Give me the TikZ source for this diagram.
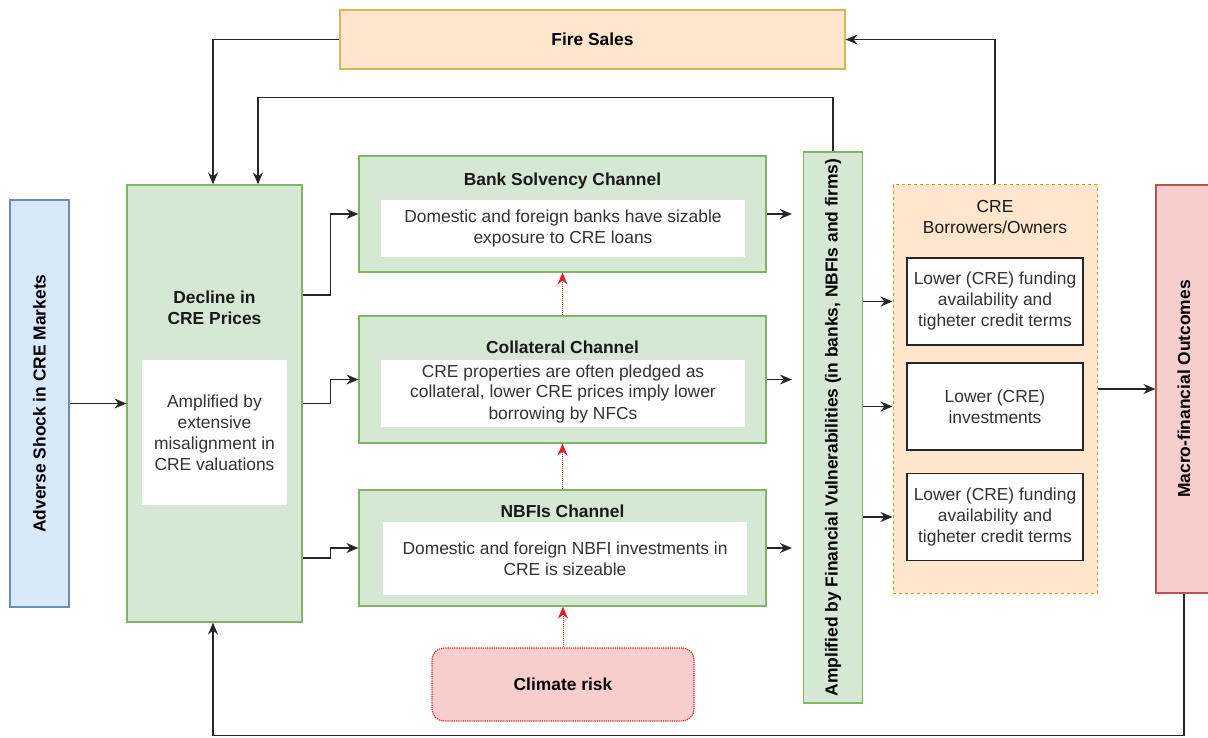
\documentclass[tikz,border=0pt]{standalone}
\usepackage{fontspec}
\setmainfont{Liberation Sans}
\usepackage{graphicx}
\usetikzlibrary{arrows.meta}

\definecolor{bluefill}{HTML}{DAE8FC}
\definecolor{blueline}{HTML}{6C8EBF}
\definecolor{greenfill}{HTML}{D5E8D4}
\definecolor{greenline}{HTML}{82B366}
\definecolor{peachfill}{HTML}{FFE6CC}
\definecolor{peachline}{HTML}{D79B00}
\definecolor{goldline}{HTML}{D6B656}
\definecolor{redfill}{HTML}{F8CECC}
\definecolor{redline}{HTML}{B85450}
\definecolor{darkred}{HTML}{E0202A}

\newcommand{\basefont}{\fontsize{17.4}{21}\selectfont}

\tikzstyle{bluebox} = [draw=blueline, fill=bluefill, line width=1.2pt]
\tikzstyle{greenbox} = [draw=greenline, fill=greenfill, line width=1.2pt]
\tikzstyle{peachbox} = [draw=peachline, fill=peachfill, line width=1pt, dashed]
\tikzstyle{redbox} = [draw=redline, fill=redfill, line width=1.2pt]
\tikzstyle{whitebox} = [fill=white, align=center, text=black!80, inner sep=0pt]
\tikzstyle{framebox} = [draw=black!85, fill=white, line width=1.3pt, align=center, text=black!80, inner sep=0pt]
\tikzstyle{heading} = [font=\basefont\bfseries, align=center, text=black!90]
\tikzstyle{link} = [draw=black!85, line width=1.5pt, -{Stealth[length=12pt, width=10pt, inset=4pt]}]
\tikzstyle{redlink} = [draw=darkred, line width=1pt, densely dotted, -{Stealth[length=12pt, width=10pt, inset=4pt, fill=darkred]}]

\begin{document}
\begin{tikzpicture}[x=1pt, y=-1pt, font=\basefont]
	\useasboundingbox (0,0) rectangle (1208,738);

	\node[bluebox, minimum width=59pt, minimum height=407pt] (shock) at (39.5,403.5) {\rotatebox{90}{\bfseries Adverse Shock in CRE Markets}};

	\node[greenbox, minimum width=175pt, minimum height=437pt] (decline) at (214.5,403.5) {};
	\node[heading] (declinetitle) at (214.5,308) {Decline in\\CRE Prices};
	\node[whitebox, minimum width=145pt, minimum height=145pt] (misalign) at (214.5,432.5) {Amplified by\\extensive\\misalignment in\\CRE valuations};

	\node[greenbox, minimum width=407pt, minimum height=116pt] (bank) at (562.5,214) {};
	\node[heading] (banktitle) at (562.5,181) {Bank Solvency Channel};
	\node[whitebox, minimum width=364pt, minimum height=57pt] (banktext) at (563,228.5) {Domestic and foreign banks have sizable\\exposure to CRE loans};

	\node[greenbox, minimum width=407pt, minimum height=127pt] (coll) at (562.5,379.5) {};
	\node[heading] (colltitle) at (562.5,347) {Collateral Channel};
	\node[whitebox, minimum width=364pt, minimum height=67pt] (colltext) at (563,393.5) {CRE properties are often pledged as\\collateral, lower CRE prices imply lower\\borrowing by NFCs};

	\node[greenbox, minimum width=407pt, minimum height=116pt] (nbfi) at (562.5,548) {};
	\node[heading] (nbfititle) at (562.5,511) {NBFIs Channel};
	\node[whitebox, minimum width=364pt, minimum height=73pt] (nbfitext) at (565,558.5) {Domestic and foreign NBFI investments in\\CRE is sizeable};

	\node[redbox, draw=darkred, densely dotted, rounded corners=12pt, minimum width=262pt, minimum height=73pt, font=\basefont\bfseries] (climate) at (563,684.5) {Climate risk};

	\node[greenbox, minimum width=59pt, minimum height=551pt] (amp) at (833,427.5) {\rotatebox{90}{\bfseries Amplified by Financial Vulnerabilities (in banks, NBFIs and firms)}};

	\node[peachbox, minimum width=204pt, minimum height=408pt] (creb) at (995,389) {};
	\node[align=center, text=black!90] (crebtitle) at (995,217) {CRE\\Borrowers/Owners};
	\node[framebox, minimum width=176pt, minimum height=87pt] (box1) at (995,301.5) {Lower (CRE) funding\\availability and\\tigheter credit terms};
	\node[framebox, minimum width=176pt, minimum height=87pt] (box2) at (995,406.5) {Lower (CRE)\\investments};
	\node[framebox, minimum width=176pt, minimum height=87pt] (box3) at (995,517) {Lower (CRE) funding\\availability and\\tigheter credit terms};

	\node[redbox, minimum width=56pt, minimum height=408pt] (macro) at (1184,389) {\rotatebox{90}{\bfseries Macro-financial Outcomes}};

	\node[draw=goldline, fill=peachfill, line width=1.2pt, minimum width=505pt, minimum height=59pt, font=\basefont\bfseries] (fires) at (592.5,39.5) {Fire Sales};

	\draw[link] (shock) -- (decline);
	\draw[link] ([yshift=108.5pt]decline.east) -- ++(28,0) |- (bank.west);
	\draw[link] (decline.east) -- ++(28,0) |- (coll.west);
	\draw[link] ([yshift=-154.5pt]decline.east) -- ++(28,0) |- (nbfi.west);

	\draw[link, shorten >=11pt] (bank.east) -- (bank.east -| amp.west);
	\draw[link, shorten >=11pt] (coll.east) -- (coll.east -| amp.west);
	\draw[link, shorten >=11pt] (nbfi.east) -- (nbfi.east -| amp.west);

	\draw[redlink] (coll.north) -- (bank.south);
	\draw[redlink] (nbfi.north) -- (coll.south);
	\draw[redlink] (climate.north) -- (climate.north |- nbfi.south);

	\draw[link] (amp.east |- box1) -- (creb.west |- box1);
	\draw[link] (amp.east |- box2) -- (creb.west |- box2);
	\draw[link] (amp.east |- box3) -- (creb.west |- box3);
	\draw[link] (creb) -- (macro);

	\draw[link] (creb.north) |- (fires.east);
	\draw[link] (fires.west) -| ([xshift=-1.5pt]decline.north);
	\draw[link] (amp.north) -- ++(0,-54) -| ([xshift=43.5pt]decline.north);
	\draw[link] (macro.south) -- ++(0,142) -| ([xshift=-1.5pt]decline.south);
\end{tikzpicture}
\end{document}
